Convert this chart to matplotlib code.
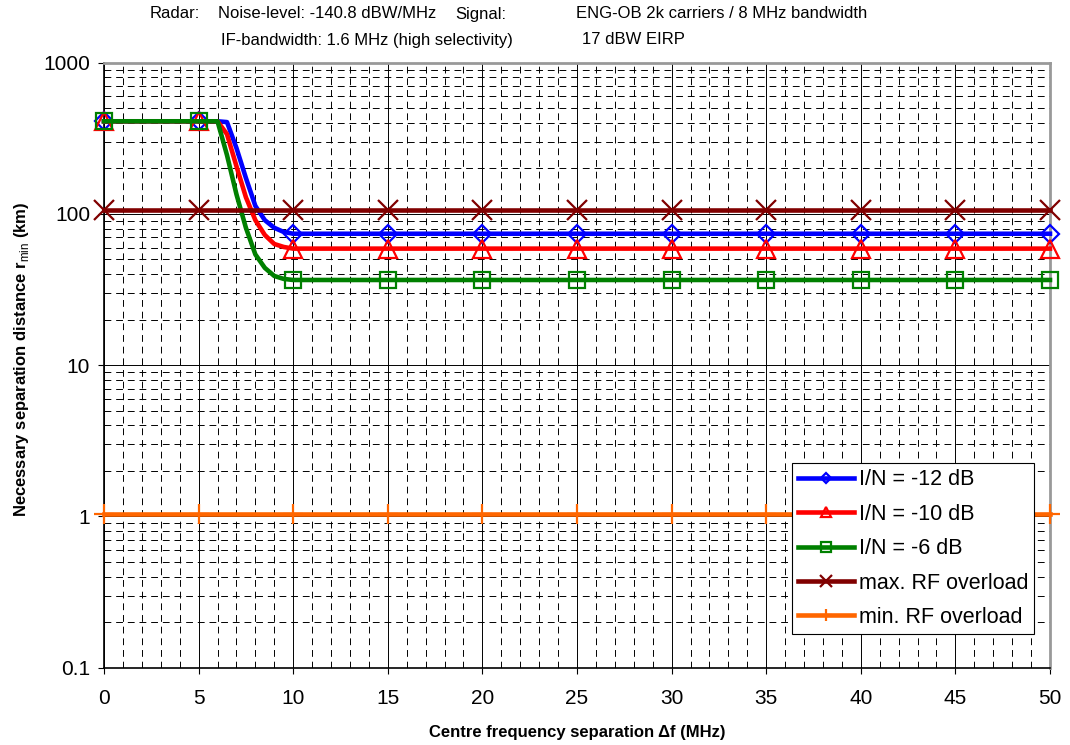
import matplotlib

matplotlib.use("Agg")
import matplotlib.pyplot as plt
from matplotlib.ticker import FixedLocator, FuncFormatter, LogLocator, MultipleLocator, NullFormatter

plt.rcParams["font.family"] = ["Liberation Sans", "DejaVu Sans"]
plt.rcParams["mathtext.fontset"] = "custom"
plt.rcParams["mathtext.rm"] = "Liberation Sans"
plt.rcParams["mathtext.bf"] = "Liberation Sans:bold"

# Frequency separation (MHz), dense around the roll-off between 6 and 10 MHz
freq = [0, 5, 6, 6.5, 7, 7.5, 8, 8.5, 9, 9.5, 10, 15, 20, 25, 30, 35, 40, 45, 50]

# Necessary separation distance (km)
r_in_12 = [410, 410, 410, 405, 273, 173, 113, 91, 81, 76, 74, 74, 74, 74, 74, 74, 74, 74, 74]
r_in_10 = [410, 410, 410, 337, 207, 129, 91, 72.6, 63.3, 60.5, 59, 59, 59, 59, 59, 59, 59, 59, 59]
r_in_6 = [410, 410, 410, 245, 135, 81, 54, 44, 38.9, 37.2, 36.6, 36.6, 36.6, 36.6, 36.6, 36.6, 36.6, 36.6, 36.6]
rf_max = [107] * len(freq)
rf_min = [1.03] * len(freq)

# markers only on the 5 MHz grid
marker_idx = [i for i, f in enumerate(freq) if f % 5 == 0]

fig = plt.figure(figsize=(10.7, 7.45), dpi=100)
ax = fig.add_axes([0.0972, 0.1038, 0.8841, 0.812])

lw = 3.3
common = dict(lw=lw, mew=1.6, markevery=marker_idx, clip_on=False)
ax.plot(freq, r_in_12, color="#0000FF", marker="D", ms=9, mfc="none",
        label="I/N = -12 dB", zorder=3, **common)
ax.plot(freq, r_in_10, color="#FF0000", marker="^", ms=13, mfc="none",
        label="I/N = -10 dB", zorder=4, **common)
ax.plot(freq, r_in_6, color="#008000", marker="s", ms=12, mfc="none",
        label="I/N = -6 dB", zorder=5, **common)
ax.plot(freq, rf_max, color="#800000", marker="x", ms=15,
        label="max. RF overload", zorder=6, **common)
ax.plot(freq, rf_min, color="#FF6600", marker="+", ms=15,
        label="min. RF overload", zorder=6, **common)

ax.set_yscale("log")
ax.set_xlim(0, 50)
ax.set_ylim(0.1, 1000)

ax.xaxis.set_major_locator(MultipleLocator(5))
ax.xaxis.set_minor_locator(MultipleLocator(1))
ax.yaxis.set_major_locator(FixedLocator([0.1, 1, 10, 100, 1000]))
ax.yaxis.set_minor_locator(LogLocator(base=10, subs=range(2, 10)))
ax.yaxis.set_major_formatter(FuncFormatter(lambda v, _: f"{v:g}"))
ax.yaxis.set_minor_formatter(NullFormatter())

# solid major grid, dashed minor grid
ax.grid(which="major", color="black", lw=0.7, ls="-", zorder=0)
ax.grid(which="minor", color="black", lw=0.7, ls=(0, (7, 5)), zorder=0)
ax.set_axisbelow(True)

ax.tick_params(which="major", direction="out", length=4, width=0.8, labelsize=15, color="black")
ax.tick_params(axis="x", which="major", pad=11)
ax.tick_params(axis="y", which="major", pad=6)
ax.tick_params(which="minor", length=0)

for side in ("left", "bottom"):
    ax.spines[side].set_color("black")
    ax.spines[side].set_linewidth(1.2)
for side in ("top", "right"):
    ax.spines[side].set_color("#999999")
    ax.spines[side].set_linewidth(2)

ax.set_xlabel("Centre frequency separation \u0394f (MHz)", fontsize=12, fontweight="bold")
ax.set_ylabel(r"Necessary separation distance r$_{\mathrm{min}}$ (km)", fontsize=12, fontweight="bold")
ax.xaxis.set_label_coords(0.5, -0.094)
ax.yaxis.set_label_coords(-0.077, 0.51)

leg = ax.legend(loc="upper left", bbox_to_anchor=(0.740, 0.3785), bbox_transform=fig.transFigure,
                borderaxespad=0, fontsize=15.5, frameon=True, fancybox=False, framealpha=1,
                edgecolor="black", handlelength=2.6, handletextpad=0.2, labelspacing=0.62,
                borderpad=0.3, markerscale=0.6)
leg.get_frame().set_linewidth(0.8)
leg.set_zorder(10)

# header text above the plot
hdr = dict(fontsize=12, va="center", ha="left")
fig.text(150 / 1070, 1 - 14 / 745, "Radar:", **hdr)
fig.text(218 / 1070, 1 - 14 / 745, "Noise-level: -140.8 dBW/MHz", **hdr)
fig.text(455 / 1070, 1 - 14 / 745, "Signal:", **hdr)
fig.text(576 / 1070, 1 - 14 / 745, "ENG-OB 2k carriers / 8 MHz bandwidth", **hdr)
fig.text(221 / 1070, 1 - 40 / 745, "IF-bandwidth: 1.6 MHz (high selectivity)", **hdr)
fig.text(582 / 1070, 1 - 40 / 745, "17 dBW EIRP", **hdr)

fig.savefig("out.png", dpi=100)
